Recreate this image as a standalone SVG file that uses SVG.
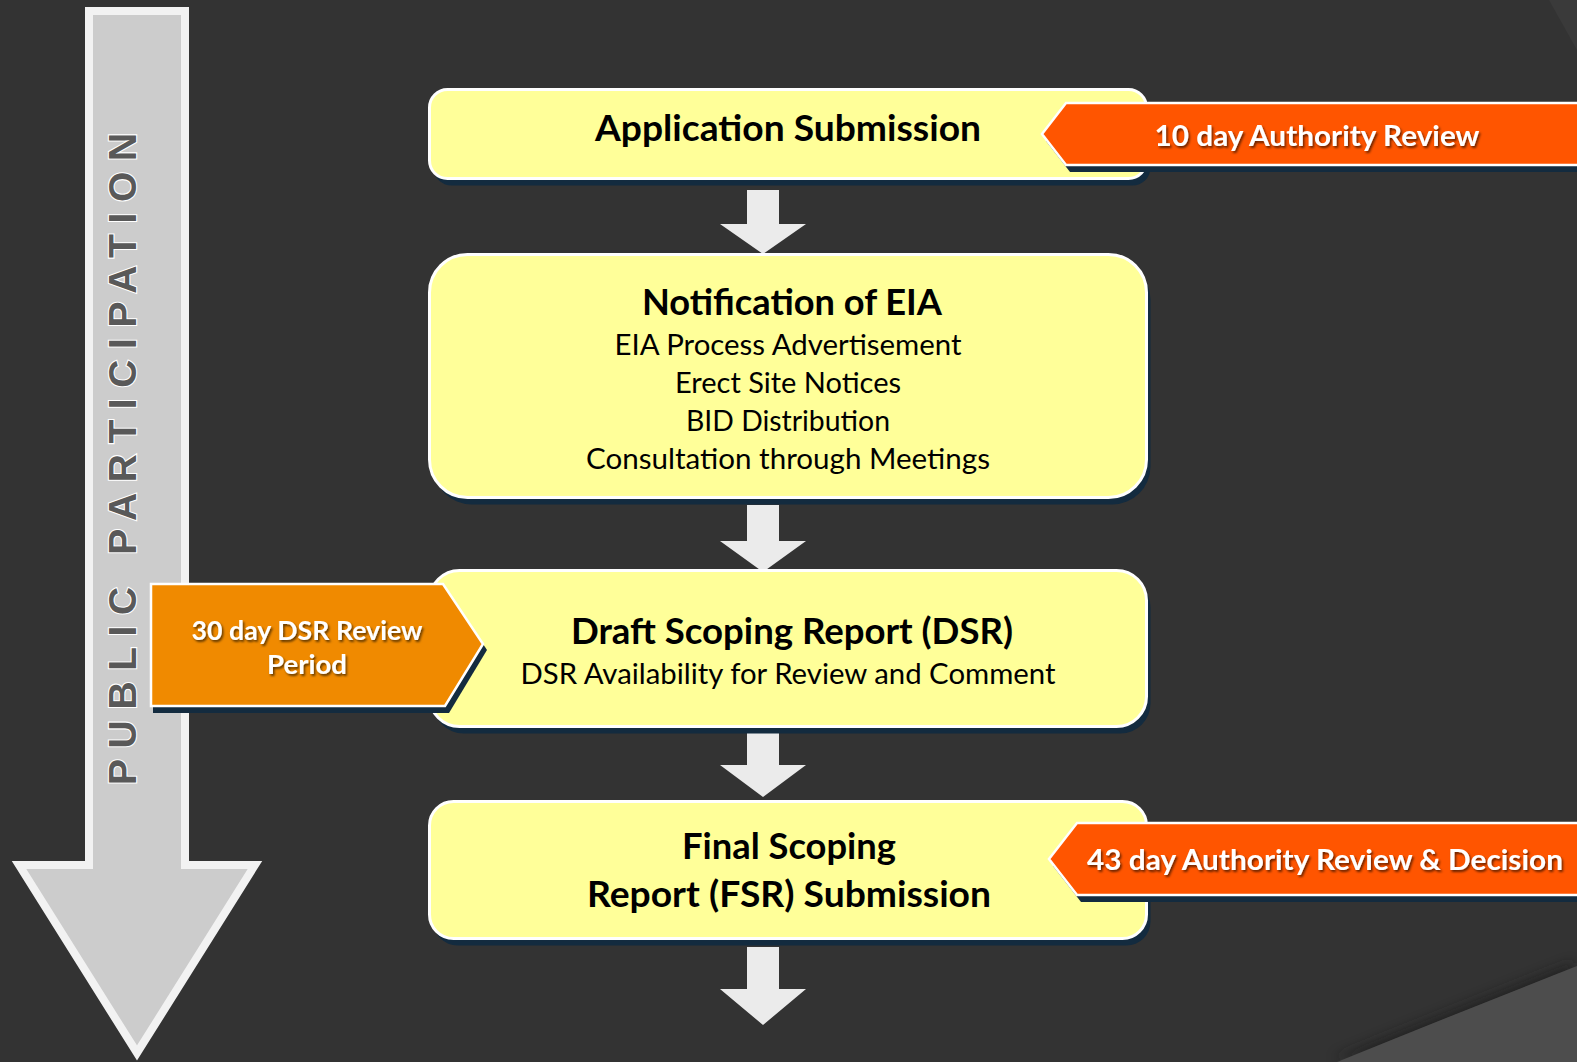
<svg xmlns="http://www.w3.org/2000/svg" width="1577" height="1062" viewBox="0 0 1577 1062">
<defs>
<style>
.box{fill:#ffff99;stroke:#ffffff;stroke-width:3}
.shd{fill:#132b3f}
.arr{fill:#ebebeb}
.tt{font-family:Lato,"Open Sans","Liberation Sans",sans-serif;font-weight:bold;font-size:36px;fill:#000;text-anchor:middle}
.tb{font-family:Lato,"Open Sans","Liberation Sans",sans-serif;font-size:29px;fill:#000;text-anchor:middle}
.tag{stroke:#ffffff;stroke-width:2.5}
.tagt{font-family:Lato,"Open Sans","Liberation Sans",sans-serif;font-weight:bold;fill:#ffffff;text-anchor:middle;filter:url(#ts)}
.pp{font-family:"Liberation Sans",Arial,sans-serif;font-weight:bold;font-size:39px;fill:#595959;stroke:#ffffff;stroke-width:2.2;paint-order:stroke;letter-spacing:10.6px}
</style>
<filter id="ts" x="-10%" y="-30%" width="120%" height="160%">
<feDropShadow dx="1.5" dy="2" stdDeviation="1" flood-color="#000" flood-opacity="0.6"/>
</filter>
<filter id="blur8" x="-20%" y="-20%" width="140%" height="140%">
<feGaussianBlur stdDeviation="6"/>
</filter>
</defs>
<rect width="1577" height="1062" fill="#333333"/>
<g id="bg-corners">
<polygon points="1549,0 1577,0 1577,50" fill="#3a3a3a"/>
<path d="M1337,1062 Q1460,1012 1577,966 L1577,1062 Z" fill="#1e1e1e" opacity="0.6" filter="url(#blur8)" transform="translate(-4,-4)"/>
<path d="M1337,1062 Q1460,1012 1577,966 L1577,1062 Z" fill="#4d4d4d"/>
</g>
<g id="public-participation">
<path d="M89,11 L185,11 L185,865 L255,865 L137,1053 L19,865 L89,865 Z" fill="#222" opacity="0.5" transform="translate(3,2)"/>
<path d="M89,11 L185,11 L185,865 L255,865 L137,1053 L19,865 L89,865 Z" fill="#cccccc" stroke="#f2f2f2" stroke-width="8" stroke-linejoin="miter"/>
<text class="pp" transform="translate(135.5,785) rotate(-90)">PUBLIC PARTICIPATION</text>
</g>
<g id="connectors">
<polygon class="arr" points="747,190 779,190 779,224 806,224 763,254 720,224 747,224"/>
<polygon class="arr" points="747,505 779,505 779,541 806,541 763,572 720,541 747,541"/>
<polygon class="arr" points="747,733 779,733 779,765 806,765 763,797 720,765 747,765"/>
<polygon class="arr" points="747,947 779,947 779,989 806,989 763,1025 720,989 747,989"/>
</g>
<g id="node-application">
<rect class="shd" x="433.5" y="96.5" width="717" height="89" rx="18"/>
<rect class="box" x="429.5" y="89.5" width="717" height="89" rx="18"/>
<text class="tt" x="788" y="141" textLength="386" lengthAdjust="spacingAndGlyphs">Application Submission</text>
</g>
<g id="node-notification">
<rect class="shd" x="433.5" y="261.5" width="717" height="243" rx="38"/>
<rect class="box" x="429.5" y="254.5" width="717" height="243" rx="38"/>
<text class="tt" x="792" y="315" textLength="300" lengthAdjust="spacingAndGlyphs">Notification of EIA</text>
<text class="tb" x="788" y="355" textLength="347" lengthAdjust="spacingAndGlyphs">EIA Process Advertisement</text>
<text class="tb" x="788" y="393" textLength="226" lengthAdjust="spacingAndGlyphs">Erect Site Notices</text>
<text class="tb" x="788" y="431" textLength="204" lengthAdjust="spacingAndGlyphs">BID Distribution</text>
<text class="tb" x="788" y="469" textLength="404" lengthAdjust="spacingAndGlyphs">Consultation through Meetings</text>
</g>
<g id="node-dsr">
<rect class="shd" x="433.5" y="577.5" width="717" height="156" rx="30"/>
<rect class="box" x="429.5" y="570.5" width="717" height="156" rx="30"/>
<text class="tt" x="792" y="644" textLength="442" lengthAdjust="spacingAndGlyphs">Draft Scoping Report (DSR)</text>
<text class="tb" x="788" y="684" textLength="535" lengthAdjust="spacingAndGlyphs">DSR Availability for Review and Comment</text>
</g>
<g id="node-fsr">
<rect class="shd" x="433.5" y="808.5" width="717" height="137" rx="24"/>
<rect class="box" x="429.5" y="801.5" width="717" height="137" rx="24"/>
<text class="tt" x="789" y="859" textLength="214" lengthAdjust="spacingAndGlyphs">Final Scoping</text>
<text class="tt" x="789" y="907" textLength="404" lengthAdjust="spacingAndGlyphs">Report (FSR) Submission</text>
</g>
<g id="tag-10day">
<polygon class="shd" points="1070,110 1590,110 1590,172 1070,172 1046,141"/>
<polygon class="tag" fill="#ff5500" points="1066,103 1590,103 1590,165 1066,165 1042,134"/>
<text class="tagt" x="1317" y="146" font-size="28" textLength="325" lengthAdjust="spacingAndGlyphs">10 day Authority Review</text>
</g>
<g id="tag-43day">
<polygon class="shd" points="1081,830 1590,830 1590,902 1081,902 1053,866"/>
<polygon class="tag" fill="#ff5500" points="1077,823 1590,823 1590,895 1077,895 1049,859"/>
<text class="tagt" x="1325" y="870" font-size="28" textLength="476" lengthAdjust="spacingAndGlyphs">43 day Authority Review &amp; Decision</text>
</g>
<g id="tag-30day">
<polygon class="shd" points="153,590 447,590 487,650 449,713 153,713"/>
<polygon class="tag" fill="#f08a00" points="151,584 443,584 483,644 445,706 151,706"/>
<text class="tagt" x="307" y="640" font-size="26" textLength="231" lengthAdjust="spacingAndGlyphs">30 day DSR Review</text>
<text class="tagt" x="307" y="674" font-size="26" textLength="80" lengthAdjust="spacingAndGlyphs">Period</text>
</g>
</svg>
